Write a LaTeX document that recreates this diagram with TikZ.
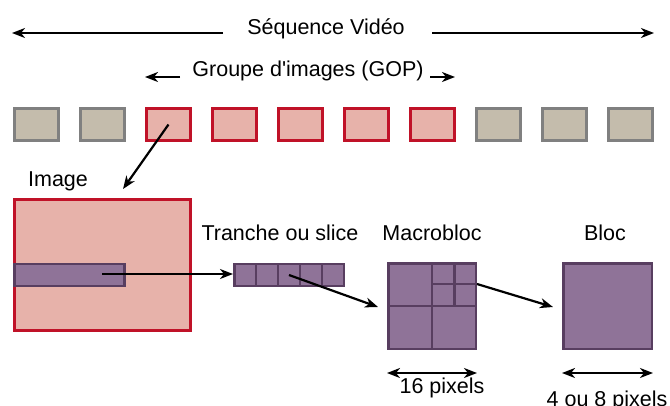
\documentclass[tikz,border=0pt]{standalone}
\usepackage{fontspec}
\setmainfont{Liberation Sans}
\usepackage{xcolor}
\definecolor{ColGris}{RGB}{196,188,172}
\definecolor{ColGrisB}{RGB}{128,128,128}
\definecolor{ColRouge}{RGB}{192,18,40}
\definecolor{ColRose}{RGB}{231,178,170}
\definecolor{ColViolet}{RGB}{143,115,152}
\definecolor{ColVioletB}{RGB}{88,62,96}
\usepackage{tikz}
\usetikzlibrary{arrows.meta}
\usetikzlibrary{calc}
\tikzstyle{Gris}=[draw=ColGrisB,fill=ColGris,line width=3pt,inner sep=0pt,
minimum width=44pt,minimum height=32pt]
\tikzstyle{Rouge}=[Gris,draw=ColRouge,fill=ColRose]
\tikzstyle{Violet}=[draw=ColVioletB,fill=ColViolet,line width=2.5pt,inner sep=0pt]
\tikzstyle{VioletTrait}=[draw=ColVioletB,line width=2.5pt]
\tikzstyle{Edge}=[draw=black,line width=2.2pt,
-{Stealth[length=13pt,width=10pt,inset=4pt]}]
\tikzstyle{EdgeGOP}=[Edge,line width=2.8pt]
\tikzstyle{Dim}=[Edge,{Stealth[length=13pt,width=10pt,inset=4pt]}-{Stealth[length=13pt,width=10pt,inset=4pt]}]
\tikzstyle{Label}=[font=\fontsize{21.5}{25}\selectfont,inner sep=0pt,anchor=base]

\begin{document}
\begin{tikzpicture}[x=1pt,y=-1pt]
        \useasboundingbox(0,0)rectangle(670,405);
        % sequence et GOP
        \node[Label](seq)at(326,34){Séquence Vidéo};
        \coordinate(seqG)at(12,33);
        \coordinate(seqA)at(223,33);
        \coordinate(seqB)at(432,33);
        \coordinate(seqD)at(654,33);
        \draw[Edge](seqA)--(seqG);
        \draw[Edge](seqB)--(seqD);
        \node[Label](gop)at(308,76){Groupe d\textquotesingle images (GOP)};
        \coordinate(gopG)at(145,77);
        \coordinate(gopA)at(180,77);
        \coordinate(gopB)at(430,77);
        \coordinate(gopD)at(455,77);
        \draw[EdgeGOP](gopA)--(gopG);
        \draw[EdgeGOP](gopB)--(gopD);
        % images
        \node[Gris](f1)at(36.5,124.5){};
        \node[Gris](f2)at(102.5,124.5){};
        \node[Rouge](f3)at(168.5,124.5){};
        \node[Rouge](f4)at(234.5,124.5){};
        \node[Rouge](f5)at(300.5,124.5){};
        \node[Rouge](f6)at(366.5,124.5){};
        \node[Rouge](f7)at(432.5,124.5){};
        \node[Gris](f8)at(498.5,124.5){};
        \node[Gris](f9)at(564.5,124.5){};
        \node[Gris](f10)at(630.5,124.5){};
        % image
        \node[Label](limg)at(58,186){Image};
        \node[Rouge,minimum width=176pt,minimum height=131pt](img)at(102.5,265){};
        \node[Violet,minimum width=110pt,minimum height=22pt](bande)at(69.25,275){};
        \coordinate(imgH)at(123,189);
        \draw[Edge](f3.center)--(imgH);
        % tranche
        \node[Label](ltr)at(280,240){Tranche ou slice};
        \node[Violet,minimum width=21.9pt,minimum height=22pt](c1)at(245.2,275){};
        \node[Violet,minimum width=21.9pt,minimum height=22pt](c2)at(267.1,275){};
        \node[Violet,minimum width=21.9pt,minimum height=22pt](c3)at(289.0,275){};
        \node[Violet,minimum width=21.9pt,minimum height=22pt](c4)at(310.9,275){};
        \node[Violet,minimum width=21.9pt,minimum height=22pt](c5)at(332.8,275){};
        \coordinate(bandeC)at(102,274);
        \draw[Edge](bandeC)--(c1.west|-bandeC);
        % macrobloc
        \node[Label](lmb)at(432,240){Macrobloc};
        \node[Violet,minimum width=87.5pt,minimum height=85.5pt](mb)at(432,306){};
        \draw[VioletTrait](mb.north)--(mb.south);
        \draw[VioletTrait](mb.west)--(mb.east);
        \draw[VioletTrait]($(mb.north)!.5!(mb.north east)$)--($(mb.center)!.5!(mb.east)$);
        \draw[VioletTrait]($(mb.north)!.5!(mb.center)$)--($(mb.north east)!.5!(mb.east)$);
        \coordinate(mbT)at(378,307);
        \draw[Edge](c3.center)--(mbT);
        \draw[Dim]([yshift=-23pt]mb.south west)--([yshift=-23pt]mb.south east);
        \node[Label](lmbp)at(442,393){16 pixels};
        % bloc
        \node[Label](lbl)at(605,240){Bloc};
        \node[Violet,minimum width=88.5pt,minimum height=85.5pt](bl)at(607.5,306){};
        \coordinate(blT)at(553,307);
        \draw[Edge]($(mb.east)!.5!(mb.north east)$)--(blT);
        \draw[Dim]([yshift=-23pt]bl.south west)--([yshift=-23pt]bl.south east);
        \node[Label](lblp)at(607,406){4 ou 8 pixels};
    \end{tikzpicture}
\end{document}
